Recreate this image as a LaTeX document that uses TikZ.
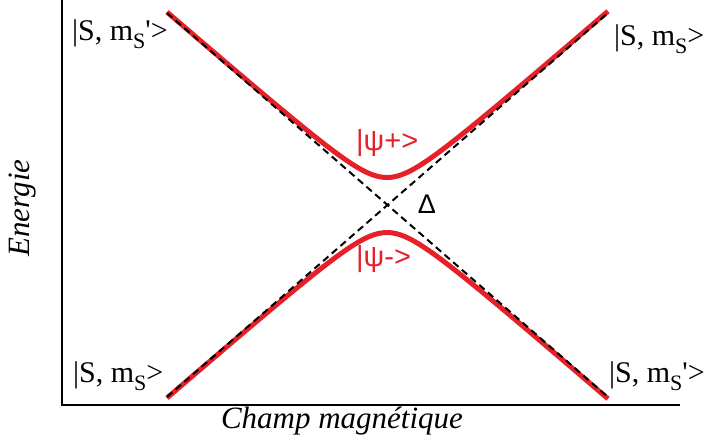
\documentclass[tikz,border=0pt]{standalone}
\usepackage{fontspec}
\setmainfont{Liberation Serif}
\newfontfamily\labsans{Liberation Sans}
\definecolor{curvered}{RGB}{230,32,40}
\newcommand\mysubS{\raisebox{-0.28em}{\fontsize{22}{24}\selectfont S}}
\begin{document}
\begin{tikzpicture}[x=10pt,y=-10pt,
  axisline/.style={line width=2pt,black},
  asym/.style={line width=2pt,black,dash pattern=on 7pt off 4.5pt},
  branch/.style={line width=5pt,curvered},
  statelab/.style={font=\fontsize{30}{33}\selectfont,anchor=base west,inner sep=0pt},
  psilab/.style={font=\labsans\fontsize{29}{32}\selectfont,text=curvered,anchor=base west,inner sep=0pt},
  axlab/.style={font=\itshape\fontsize{31}{34}\selectfont,inner sep=0pt}]
\useasboundingbox (0,0) rectangle (71.2,44.2);
% axes
\coordinate (ytop) at (6.2,0);
\coordinate (origin) at (6.2,40.5);
\coordinate (xend) at (68,40.5);
\draw[axisline] (ytop) -- (origin) -- (xend);
% asymptotes
\coordinate (a1) at (16.7,1.3);
\coordinate (a2) at (60.8,39.7);
\coordinate (b1) at (16.7,39.7);
\coordinate (b2) at (60.8,1.3);
% branches
\draw[branch] plot[domain=16.7:60.8,samples=120] (\x,{20.5-sqrt(2.75*2.75+(0.868*(\x-38.7))^2)});
\draw[branch] plot[domain=16.7:60.8,samples=120] (\x,{20.5+sqrt(2.75*2.75+(0.868*(\x-38.7))^2)});
\draw[asym] (a1) -- (a2);
\draw[asym] (b1) -- (b2);
% labels
\node[statelab] (tl) at (7.2,4.0) {|S, m\mysubS\textquotesingle>};
\node[statelab] (tr) at (61.4,4.5) {|S, m\mysubS>};
\node[statelab] (bl) at (7.3,38.2) {|S, m\mysubS>};
\node[statelab] (br) at (60.9,38.2) {|S, m\mysubS\textquotesingle>};
\node[psilab] (psip) at (35.6,15.0) {|ψ+>};
\node[psilab] (psim) at (35.6,26.6) {|ψ->};
\node[font=\labsans\fontsize{27}{30}\selectfont,inner sep=0pt] (delta) at (42.7,20.4) {Δ};
\node[axlab,rotate=90] (ylab) at (2.3,20.8) {Energie};
\node[axlab] (xlab) at (34.2,42.1) {Champ magnétique};
\end{tikzpicture}
\end{document}
